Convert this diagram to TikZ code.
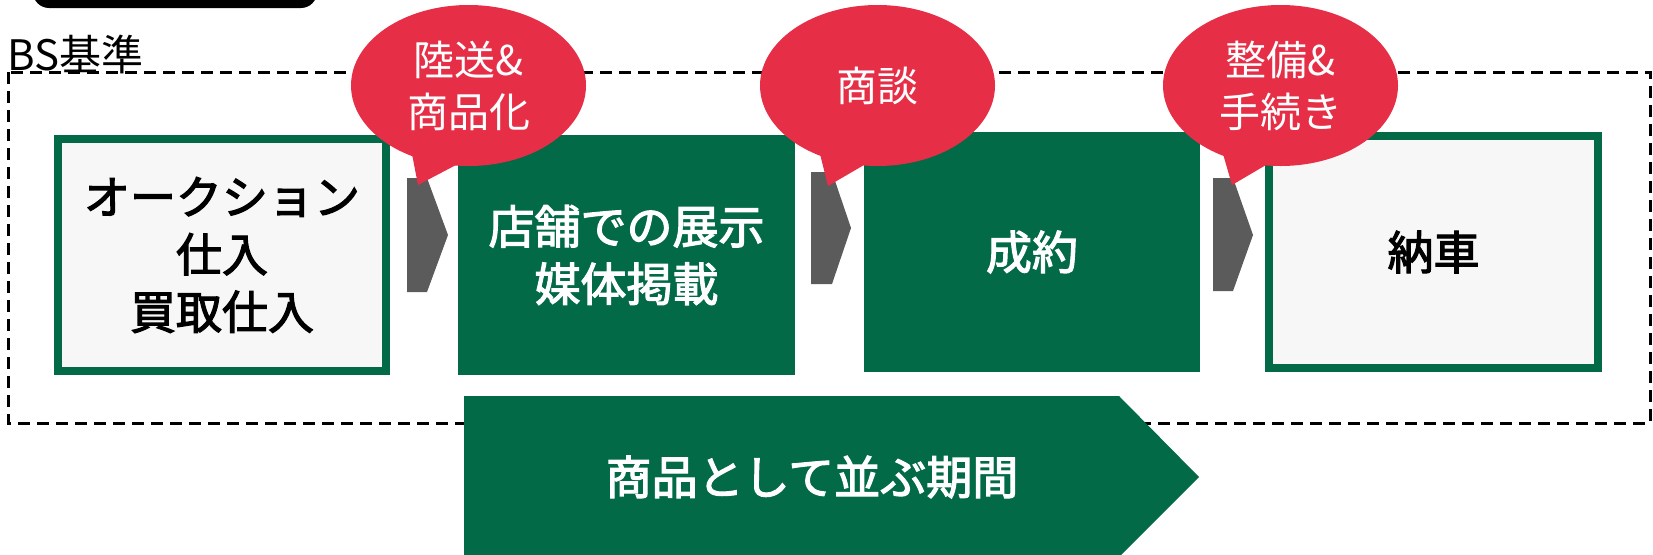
\documentclass[tikz,border=0pt]{standalone}
\usepackage{fontspec}
\setmainfont{Noto Sans CJK JP}
\newfontfamily\medfont{Noto Sans CJK JP}[FakeBold=2.5]
\usetikzlibrary{shapes.geometric}
\definecolor{bsgreen}{HTML}{026A47}
\definecolor{bsred}{HTML}{E62E47}
\definecolor{bsgray}{HTML}{5B5B5B}
\definecolor{bslight}{HTML}{F7F7F7}
\tikzset{
  lightbox/.style={draw=bsgreen, line width=8pt, fill=bslight, inner sep=0pt,
    minimum width=328pt, minimum height=232pt, align=center,
    font=\fontsize{46}{57.5}\medfont, text=black},
  greenbox/.style={fill=bsgreen, inner sep=0pt, minimum width=336pt,
    minimum height=240pt, align=center,
    font=\fontsize{46}{57.5}\medfont, text=white},
  bubble/.style={ellipse, fill=bsred, inner sep=0pt, minimum width=235pt,
    minimum height=161pt, align=center, text=white,
    font=\fontsize{41}{52}\selectfont},
  chevron/.style={fill=bsgray},
  frame/.style={draw=black, line width=3pt, dash pattern=on 12pt off 7pt},
}
\begin{document}
\begin{tikzpicture}[x=1pt,y=-1pt]
\useasboundingbox (0,0) rectangle (1653,554);
% partial black shape at top-left
\fill[black, rounded corners=16pt] (33,-40) rectangle (317,8);
% dashed frame
\draw[frame] (8,72) rectangle (1650,423);
\node[anchor=west, inner sep=0pt, font=\fontsize{42}{44}\selectfont] (bs) at (7,54) {BS基準};
% boxes
\node[lightbox] (b1) at (222,255) {オークション\\仕入\\買取仕入};
\node[greenbox, minimum width=337pt] (b2) at (626.5,255) {店舗での展示\\媒体掲載};
\node[greenbox] (b3) at (1032,252) {成約};
\node[lightbox, minimum width=329pt] (b4) at (1433.5,252) {納車};
% chevrons
\fill[chevron] (407,178) -- (427,178) -- (448,235) -- (427,292) -- (407,292) -- cycle;
\fill[chevron] (811,172) -- (832,172) -- (851,228) -- (832,284) -- (811,284) -- cycle;
\fill[chevron] (1213,178) -- (1233,178) -- (1253,235) -- (1233,291) -- (1213,291) -- cycle;
% callouts
\node[bubble] (c1) at (468.5,85.5) {陸送\&\\商品化};
\fill[bsred] (412,154) -- (418,185) -- (456,165) -- cycle;
\node[bubble] (c2) at (877.5,85.5) {商談};
\fill[bsred] (820,154) -- (828,186) -- (864,165) -- cycle;
\node[bubble] (c3) at (1280.5,85.5) {整備\&\\手続き};
\fill[bsred] (1223,154) -- (1232,185) -- (1266,165) -- cycle;
% big arrow
\fill[bsgreen] (464,396) -- (1119,396) -- (1199,477) -- (1118,558) -- (464,558) -- cycle;
\node[text=white, font=\fontsize{46}{50}\medfont] (period) at (812,477) {商品として並ぶ期間};
\end{tikzpicture}
\end{document}
